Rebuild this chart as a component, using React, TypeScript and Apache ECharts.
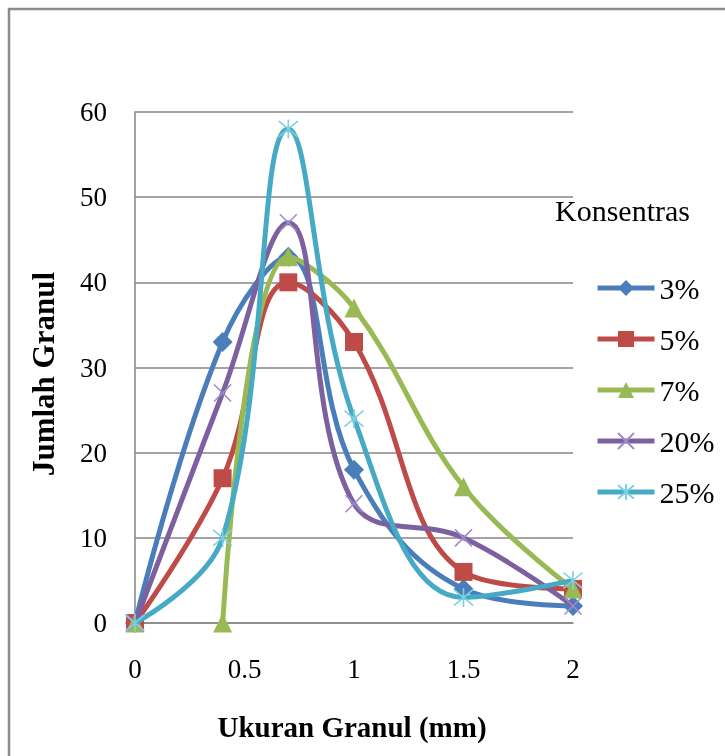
import React, { useEffect, useRef } from "react";
import * as echarts from "echarts";

// Granule size (mm) at which counts were taken
const sizes = [0, 0.4, 0.7, 1, 1.5, 2];
const seriesNames = ["3%", "5%", "7%", "20%", "25%"];
const count3 = [0, 33, 43, 18, 4, 2];
const count5 = [0, 17, 40, 33, 6, 4];
const count7 = [0, 0, 43, 37, 16, 4];
const count20 = [0, 27, 47, 14, 10, 2];
const count25 = [0, 10, 58, 24, 3, 5];
const xTickValues = [0, 0.5, 1, 1.5, 2];
const yTickValues = [0, 10, 20, 30, 40, 50, 60];

const FONT = "'Liberation Serif', 'Times New Roman', serif";
const lineColors = ["#4A7EBB", "#BE4B48", "#98B954", "#7D60A0", "#46AAC5"];

const X_PATH = "path://M0,0L10,10M10,0L0,10";
const STAR_PATH = "path://M0,0L10,10M10,0L0,10M5,-1L5,11";

function pairs(values: number[], breakAfterFirst = false) {
  const out: any[] = [];
  values.forEach((v, i) => {
    out.push([sizes[i], v]);
    if (breakAfterFirst && i === 0) out.push([(sizes[0] + sizes[1]) / 2, null]);
  });
  return out;
}

export default function App() {
  const ref = useRef<HTMLDivElement>(null);
  useEffect(() => {
    if (!ref.current) return;
    const chart = echarts.init(ref.current, null, { renderer: "svg" });
    const allValues = [count3, count5, count7, count20, count25];
    const symbols = ["diamond", "rect", "triangle", X_PATH, STAR_PATH];
    const symbolSizes = [20, 18, 19, 17, 19];
    const markerColors = ["#4A7EBB", "#BE4B48", "#98B954", "#A08CCB", "#7DD0E3"];
    const series = allValues.map((vals, i) => {
      const stroked = i >= 3;
      return {
        type: "line",
        name: seriesNames[i],
        data: pairs(vals, i === 2),
        smooth: 0.4,
        connectNulls: false,
        symbol: symbols[i],
        symbolSize: symbolSizes[i],
        showAllSymbol: true,
        lineStyle: { color: lineColors[i], width: 5 },
        itemStyle: stroked
          ? { color: "transparent", borderColor: markerColors[i], borderWidth: 1.6 }
          : { color: markerColors[i], borderWidth: 0 },
        emphasis: { disabled: true },
        z: 2 + i,
      };
    });
    chart.setOption({
      animation: false,
      textStyle: { fontFamily: FONT },
      grid: { left: 135, right: 152, top: 112, bottom: 133, containLabel: false },
      xAxis: {
        type: "value",
        min: 0,
        max: 2,
        interval: 0.5,
        axisLine: { show: true, lineStyle: { color: "#868686", width: 1.5 } },
        axisTick: { show: false },
        splitLine: { show: false },
        axisLabel: {
          color: "#000",
          fontFamily: FONT,
          fontSize: 27,
          lineHeight: 28,
          margin: 32,
          formatter: (v: number) => (xTickValues.includes(v) ? String(v) : ""),
        },
      },
      yAxis: {
        type: "value",
        min: 0,
        max: 60,
        interval: 10,
        axisLine: { show: true, lineStyle: { color: "#868686", width: 1.5 } },
        axisTick: { show: false },
        splitLine: { show: true, lineStyle: { color: "#868686", width: 1.5 } },
        axisLabel: {
          color: "#000",
          fontFamily: FONT,
          fontSize: 27,
          margin: 28,
          formatter: (v: number) => (yTickValues.includes(v) ? String(v) : ""),
        },
      },
      legend: {
        orient: "vertical",
        left: 590,
        top: 268,
        itemWidth: 57,
        itemHeight: 20,
        itemGap: 21,
        selectedMode: false,
        lineStyle: { width: 5 },
        textStyle: { color: "#000", fontFamily: FONT, fontSize: 30, lineHeight: 30 },
        data: seriesNames,
      },
      graphic: [
        {
          type: "polyline",
          shape: { points: [[9, 800], [9, 9], [800, 9]] },
          style: { fill: "none", stroke: "#8A8A8A", lineWidth: 2.5 },
          silent: true,
        },
        {
          type: "text",
          x: 555,
          y: 210,
          style: { text: "Konsentras", fill: "#000", fontFamily: FONT, fontSize: 30, align: "left", verticalAlign: "middle" },
        },
        {
          type: "text",
          x: 352,
          y: 727,
          style: { text: "Ukuran Granul (mm)", fill: "#000", fontFamily: FONT, fontWeight: "bold", fontSize: 29, align: "center", verticalAlign: "middle" },
        },
        {
          type: "text",
          x: 43,
          y: 374,
          rotation: Math.PI / 2,
          style: { text: "Jumlah Granul", fill: "#000", fontFamily: FONT, fontWeight: "bold", fontSize: 31, align: "center", verticalAlign: "middle" },
        },
      ],
      series,
    });
    return () => chart.dispose();
  }, []);
  return <div ref={ref} style={{ position: "fixed", left: 0, top: 0, width: 725, height: 756 }} />;
}
